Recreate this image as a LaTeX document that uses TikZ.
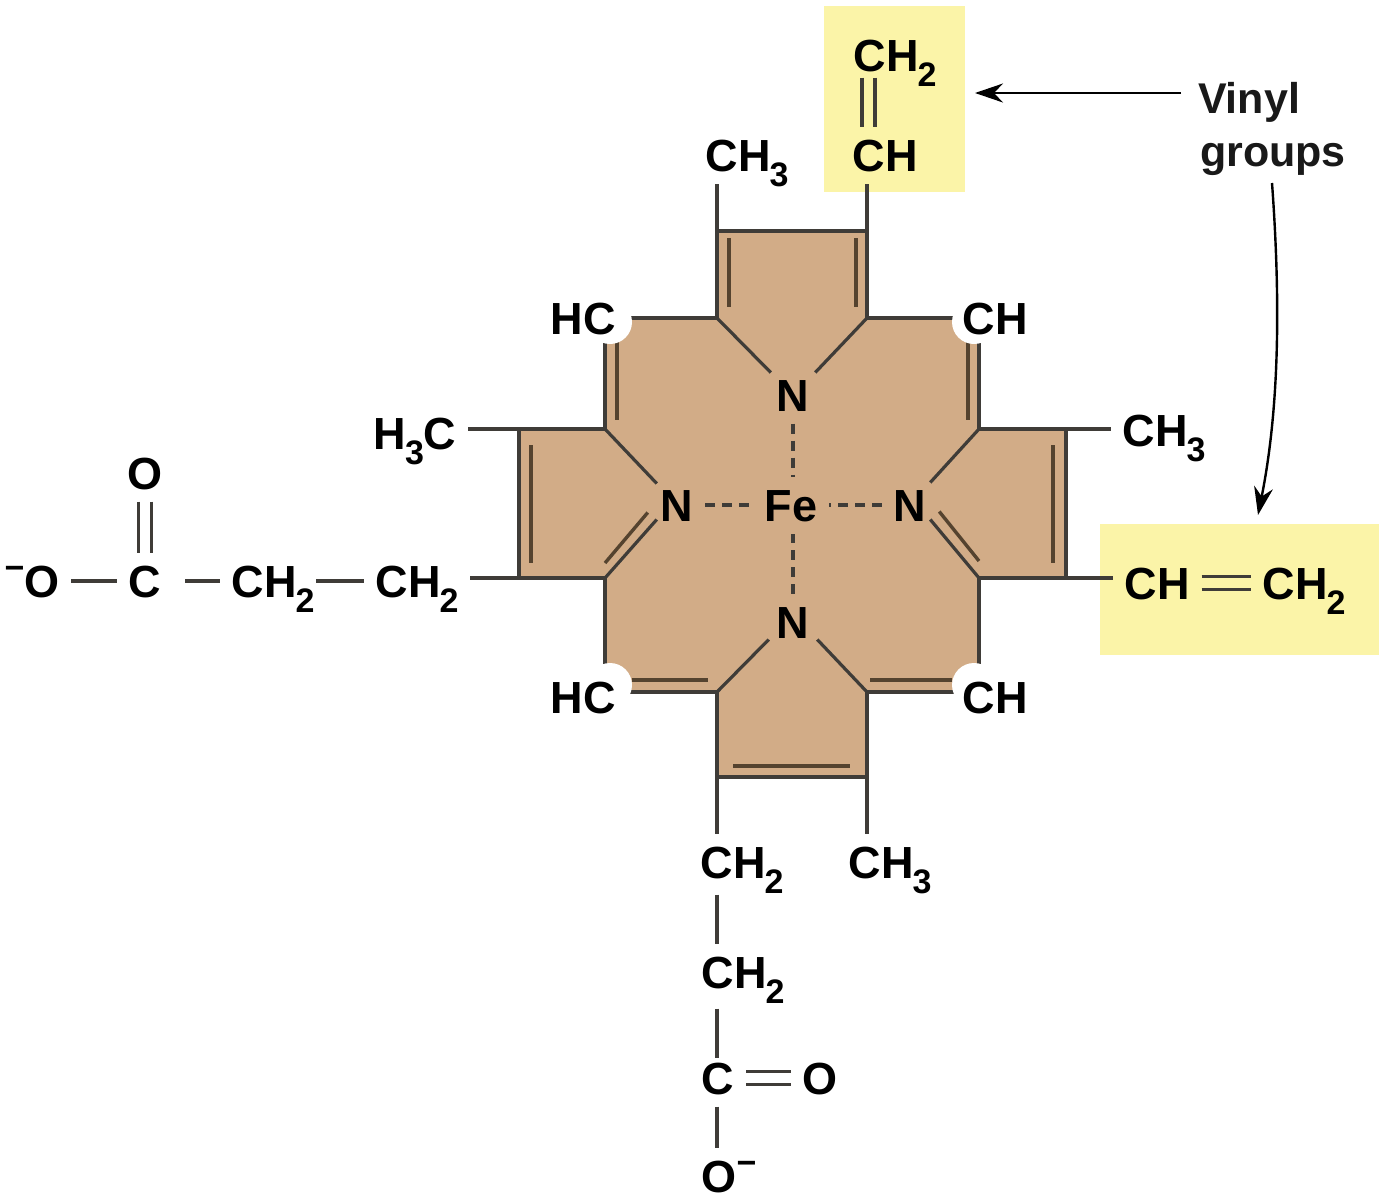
\documentclass[tikz,border=0pt]{standalone}
\usepackage{fontspec}
\setmainfont{Liberation Sans}
\usetikzlibrary{calc,arrows.meta}
\definecolor{ringfill}{HTML}{D2AC87}
\definecolor{lin}{HTML}{3F3C38}
\definecolor{inl}{HTML}{55432F}
\definecolor{hl}{HTML}{FBF4A8}
\newcommand{\sbs}[1]{\kern-0.5pt\raisebox{-7.5pt}{\fontsize{17}{17}\selectfont\bfseries #1}}
\newcommand{\sps}{\raisebox{9pt}{\fontsize{17}{17}\selectfont\bfseries −}}
\tikzset{
  atom/.style={font=\fontsize{22.5}{22.5}\selectfont\bfseries,inner sep=0pt,outer sep=6pt,text height=16.5pt,text depth=0pt,text=black},
  note/.style={font=\fontsize{21.5}{21.5}\selectfont\bfseries,inner sep=0pt,outer sep=0pt,text height=16.5pt,text depth=0pt,text=black!90},
  bond/.style={draw=lin,line width=1.6pt},
  inbond/.style={draw=inl,line width=1.7pt},
  coord/.style={draw=lin,line width=1.6pt,dash pattern=on 5pt off 3.5pt},
  pointer/.style={draw=black,line width=1.2pt,-{Stealth[length=14pt,width=9.5pt]}},
  hlbox/.style={fill=hl,draw=none,inner sep=0pt},
  blob/.style={circle,fill=white,draw=none,minimum size=22pt,inner sep=0pt}
}
\begin{document}
\begin{tikzpicture}[x=0.5pt,y=-0.5pt]
\useasboundingbox (0,0) rectangle (1385,1200);
% highlight boxes
\node[hlbox,minimum width=70.5pt,minimum height=93pt] (box1) at (894.5,99) {};
\node[hlbox,minimum width=139.5pt,minimum height=65.5pt] (box2) at (1239.5,589.5) {};
% ring vertices
\coordinate (a) at (717,231);
\coordinate (b) at (867,231);
\coordinate (c) at (867,318);
\coordinate (tr) at (979,318);
\coordinate (d) at (979,429);
\coordinate (e) at (1066,429);
\coordinate (f) at (1066,578);
\coordinate (g) at (979,578);
\coordinate (br) at (979,692);
\coordinate (h) at (867,692);
\coordinate (i) at (867,777);
\coordinate (j) at (717,777);
\coordinate (k) at (717,692);
\coordinate (bl) at (605,692);
\coordinate (l) at (605,578);
\coordinate (m) at (519,578);
\coordinate (n) at (519,429);
\coordinate (o) at (605,429);
\coordinate (tl) at (605,318);
\coordinate (p) at (717,318);
\fill[ringfill] (a)--(b)--(c)--(tr)--(d)--(e)--(f)--(g)--(br)--(h)--(i)--(j)--(k)--(bl)--(l)--(m)--(n)--(o)--(tl)--(p)--cycle;
% ring outline
\draw[bond,line join=miter] (p)--(a)--(b)--(c)--(tr)--(d)--(e)--(f)--(g)--(br)--(h)--(i)--(j)--(k)--(bl)--(l)--(m)--(n)--(o)--(tl)--cycle;
% inner double bonds
\draw[inbond] ($(a)+(12,7)$) -- ($(p)+(12,-11)$);
\draw[inbond] ($(b)+(-11,7)$) -- ($(c)+(-11,-11)$);
\draw[inbond] ($(e)+(-13,16)$) -- ($(f)+(-13,-15)$);
\draw[inbond] ($(n)+(12,16)$) -- ($(m)+(12,-15)$);
\draw[inbond] ($(j)+(16,-11)$) -- ($(i)+(-17,-11)$);
\draw[inbond] ($(tl)+(12,20)$) -- ($(o)+(12,-9)$);
\draw[inbond] ($(tr)+(-11,20)$) -- ($(d)+(-11,-9)$);
\draw[inbond] ($(bl)+(27,-12)$) -- ($(k)+(-9,-12)$);
\draw[inbond] ($(h)+(3,-12)$) -- ($(br)+(-27,-12)$);
% corner blobs
\node[blob] (btl) at (610,322) {};
\node[blob] (btr) at (974,322) {};
\node[blob] (bbl) at (610,685) {};
\node[blob] (bbr) at (974,685) {};
% atoms
\node[atom] (nT) at (793,395) {N};
\node[atom] (nL) at (677,505) {N};
\node[atom] (nR) at (910,505) {N};
\node[atom] (nB) at (793,622) {N};
\node[atom] (fe) at (791,505) {Fe};
\node[atom] (hcTL) at (583,318) {HC};
\node[atom] (chTR) at (995,318) {CH};
\node[atom] (hcBL) at (583,697) {HC};
\node[atom] (chBR) at (995,697) {CH};
\node[atom] (me1) at (747,155) {CH\sbs{3}};
\node[atom] (v1a) at (895,55) {CH\sbs{2}};
\node[atom] (v1b) at (885,155) {CH};
\node[atom] (me2) at (1164,430) {CH\sbs{3}};
\node[atom] (v2b) at (1157,583) {CH};
\node[atom] (v2a) at (1304,583) {CH\sbs{2}};
\node[atom] (me3) at (415,433) {H\sbs{3}C};
\node[atom] (pa1) at (417,581) {CH\sbs{2}};
\node[atom] (pa2) at (273,581) {CH\sbs{2}};
\node[atom] (pa3) at (145,581) {C};
\node[atom] (pa4) at (145,473) {O};
\node[atom] (pa5) at (32,581) {\sps O};
\node[atom] (me4) at (890,862) {CH\sbs{3}};
\node[atom] (pb1) at (742,862) {CH\sbs{2}};
\node[atom] (pb2) at (743,972) {CH\sbs{2}};
\node[atom] (pb3) at (718,1078) {C};
\node[atom] (pb4) at (820,1078) {O};
\node[atom] (pb5) at (729,1176) {O\sps};
\node[note] (vinyl) at (1249,97) {Vinyl};
\node[note] (groups) at (1273,150) {groups};
% ring to nitrogen
\draw[bond] (p) -- ($(nT.north west)+(6,6)$);
\draw[bond] (c) -- ($(nT.north east)+(-6,6)$);
\draw[bond] (o) -- ($(nL.north west)+(8,7)$);
\draw[bond] (d) -- ($(nR.north east)+(-8,6)$);
\draw[bond] (l) -- ($(nL.south west)+(8,-14)$);
\draw[inbond] ($(l)+(0,-15)$) -- ($(nL.south west)+(-1,-21)$);
\draw[bond] (g) -- ($(nR.south east)+(-8,-14)$);
\draw[inbond] ($(g)+(0,-17)$) -- ($(nR.south east)+(1,-22)$);
\draw[bond] (k) -- ($(nB.south west)+(4,-11)$);
\draw[bond] (h) -- ($(nB.south east)+(-4,-11)$);
% coordination
\draw[coord] (nT.south) -- (nT.south |- fe.north);
\draw[coord] (nL.east) -- (nL.east -| fe.west);
\draw[coord] (nR.west) -- (nR.west -| fe.east);
\draw[coord] (nB.north) -- (nB.north |- fe.south);
% substituents
\draw[bond] (a) -- (a |- me1.south);
\draw[bond] (b) -- (b |- v1b.south);
\coordinate (vx1) at (862,100);
\coordinate (vx2) at (875,100);
\draw[bond,shorten <=-3pt] (vx1 |- v1a.south) -- (vx1 |- v1b.north);
\draw[bond,shorten <=-3pt] (vx2 |- v1a.south) -- (vx2 |- v1b.north);
\draw[bond] (e) -- (e -| me2.west);
\draw[bond] (f) -- (f -| v2b.west);
\draw[bond] ([yshift=3.2pt]v2b.east) -- ([yshift=3.2pt]v2a.west);
\draw[bond] ([yshift=-3.2pt]v2b.east) -- ([yshift=-3.2pt]v2a.west);
\draw[bond] (n) -- (n -| me3.east);
\draw[bond] (m) -- (m -| pa1.east);
\draw[bond] ([xshift=-5pt]pa2.east) -- (pa1.west);
\draw[bond,shorten <=6pt] (pa3.east) -- (pa2.west);
\draw[bond] (pa5.east) -- (pa3.west);
\draw[bond] ([xshift=-3.2pt]pa4.south) -- ([xshift=-3.2pt]pa3.north);
\draw[bond] ([xshift=3.2pt]pa4.south) -- ([xshift=3.2pt]pa3.north);
\draw[bond] (i) -- (i |- me4.north);
\draw[bond] (j) -- (j |- pb1.north);
\draw[bond,shorten <=2pt] (j |- pb1.south) -- (j |- pb2.north);
\draw[bond,shorten <=4pt,shorten >=-4pt] (j |- pb2.south) -- (j |- pb3.north);
\draw[bond] (j |- pb3.south) -- (j |- pb5.north);
\draw[bond] ([yshift=3.2pt]pb3.east) -- ([yshift=3.2pt]pb4.west);
\draw[bond] ([yshift=-3.2pt]pb3.east) -- ([yshift=-3.2pt]pb4.west);
% pointers
\coordinate (vs) at (1181,93);
\coordinate (vt) at (975,93);
\draw[pointer] (vs) -- (vt);
\coordinate (gs) at (1272,183);
\coordinate (gt) at (1258,515);
\draw[pointer] (gs) .. controls (1282,320) and (1277,420) .. (gt);
\end{tikzpicture}
\end{document}
